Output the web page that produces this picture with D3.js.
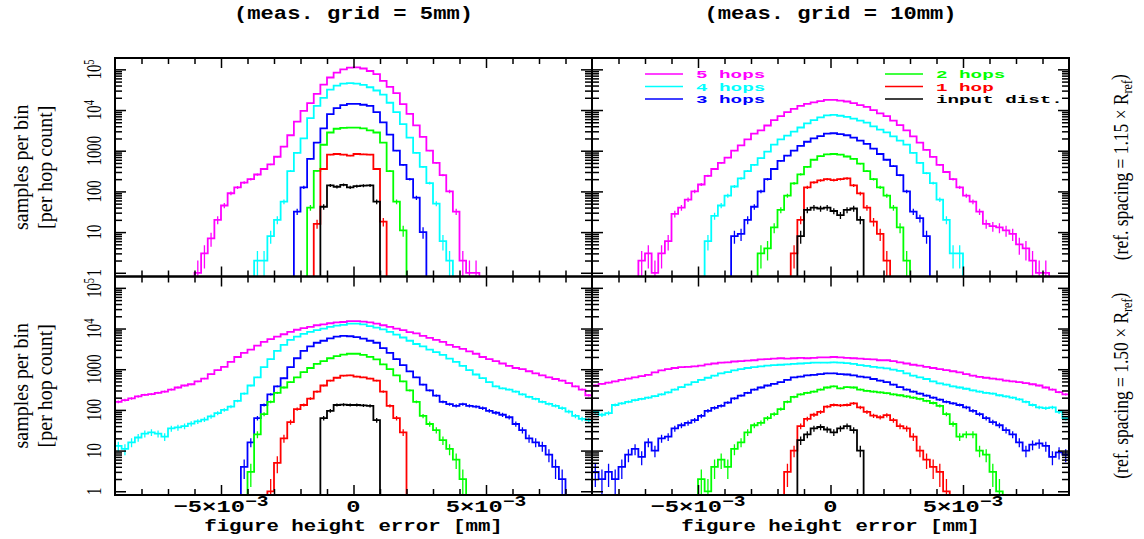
<!DOCTYPE html>
<html>
<head>
<meta charset="utf-8">
<script src="https://cdn.jsdelivr.net/npm/d3@7"></script>
<style>
  body { margin: 0; background: #fff; }
  svg { display: block; }
  .serif { font-family: "Liberation Serif", "Times New Roman", serif; }
  .mono { font-family: "Liberation Mono", "Courier New", monospace; font-weight: bold; }
  .axis path.domain { stroke: none; }
  .axis line { stroke: #000; stroke-width: 1.5; }
</style>
</head>
<body>
<script>
// histogram bin width [mm], every series uses the same binning
var binWidth = 0.25e-3;

var hopNames = ["5 hops", "4 hops", "3 hops", "2 hops", "1 hop", "input dist."];
var gridTitles = ["(meas. grid = 5mm)", "(meas. grid = 10mm)"];
var spacingValues = ["1.15", "1.50"];
var yTickValues = [1, 10, 100, 1000, 1e4, 1e5];
var yTickLabels = [["1", ""], ["10", ""], ["100", ""], ["1000", ""], ["10", "4"], ["10", "5"]];
var xTickValues = [-5e-3, 0, 5e-3];
var xTickLabels = [["\u22125\u00d710", "\u22123"], ["0", ""], ["5\u00d710", "\u22123"]];

// meas. grid 5mm, ref. spacing 1.15 -- lower edge of first bin, then counts per bin
var g5s115Start = [-6.0e-3, -3.75e-3, -2.25e-3, -1.75e-3, -1.5e-3, -1.25e-3];
var g5s115Hop5 = [1, 3, 7, 20, 45, 90, 125, 165, 200, 260, 355, 460, 710, 1260, 2400, 5200, 9500, 14800, 25000, 42000, 63000, 83000, 100000, 110000, 112000, 105000, 91000, 76000, 52000, 37000, 26000, 14000, 8000, 4200, 2200, 1000, 500, 250, 100, 32, 2, 1, 1];
var g5s115Hop4 = [2, 2, 8, 20, 56, 316, 890, 2000, 6300, 12600, 20000, 31600, 40000, 44700, 45700, 44700, 41700, 36300, 30200, 24000, 15100, 8900, 4500, 2100, 890, 400, 160, 50, 6, 2];
var g5s115Hop3 = [32, 126, 630, 1580, 3550, 7900, 11200, 13200, 14100, 14100, 13500, 12600, 8900, 5000, 2500, 1000, 450, 200, 70, 10];
var g5s115Hop2 = [40, 320, 1400, 2800, 3470, 3630, 3700, 3700, 3550, 3160, 2800, 1580, 316, 56, 11];
var g5s115Hop1 = [16, 355, 800, 830, 800, 760, 830, 810, 800, 355, 18];
var g5s115Input = [42, 140, 130, 145, 126, 135, 138, 140, 56];

// meas. grid 10mm, ref. spacing 1.15
var g10s115Start = [-7.25e-3, -4.75e-3, -3.75e-3, -2.75e-3, -1.5e-3, -1.25e-3];
var g10s115Hop5 = [2, 3, 1, 3, 6, 28, 40, 63, 100, 148, 240, 355, 500, 676, 1000, 1350, 1900, 2630, 3160, 4170, 5620, 7080, 8900, 10700, 12600, 14100, 15500, 16600, 17800, 17800, 17000, 16200, 14800, 13200, 12000, 10000, 8300, 7080, 5500, 4270, 3160, 2240, 1580, 1050, 708, 447, 300, 200, 126, 79, 56, 32, 16, 14, 13, 11, 9, 5, 4, 2, 1, 1];
var g10s115Hop4 = [6, 25, 45, 79, 132, 209, 316, 447, 660, 955, 1410, 1900, 2340, 2950, 3720, 4680, 5620, 6600, 7400, 7590, 7240, 6760, 6170, 5500, 4900, 3980, 3310, 2820, 2240, 1780, 1410, 890, 500, 280, 160, 63, 20, 3, 3];
var g10s115Hop3 = [8, 9, 20, 42, 100, 200, 355, 560, 760, 1000, 1320, 1660, 2000, 2290, 2630, 2690, 2570, 2400, 2090, 1780, 1480, 1120, 830, 600, 417, 250, 100, 32, 22, 8];
var g10s115Hop2 = [3, 4, 13, 35, 79, 158, 263, 400, 600, 740, 810, 830, 800, 720, 630, 480, 316, 200, 126, 79, 40, 13, 2];
var g10s115Hop1 = [3, 20, 126, 166, 186, 200, 190, 200, 209, 141, 89, 40, 18, 9, 2];
var g10s115Input = [8, 35, 40, 38, 40, 33, 26, 35, 38, 20];

// meas. grid 5mm, ref. spacing 1.50
var g5s150Start = [-9e-3, -9e-3, -4.25e-3, -4.0e-3, -3.25e-3, -1.25e-3];
var g5s150Hop5 = [158, 174, 191, 214, 234, 245, 263, 282, 316, 355, 398, 427, 501, 589, 759, 955, 1148, 1514, 1995, 2512, 3020, 3802, 4677, 5495, 6310, 7244, 8318, 9333, 10233, 10965, 12023, 12589, 13490, 14125, 14454, 15136, 15136, 14791, 14125, 13183, 12023, 10965, 10000, 9120, 8128, 7586, 6607, 5888, 5248, 4677, 3981, 3548, 3162, 2754, 2399, 1995, 1778, 1585, 1380, 1202, 1072, 1000, 891, 794, 708, 631, 575, 525, 457, 380, 316, 229];
var g5s150Hop4 = [13, 11, 16, 21, 26, 28, 26, 22, 35, 37, 40, 46, 52, 58, 69, 83, 100, 120, 166, 251, 398, 631, 1122, 1778, 2818, 3981, 5248, 6310, 7413, 8318, 9120, 10000, 10965, 11749, 12303, 13183, 13183, 12589, 11482, 10471, 9550, 8318, 7079, 6026, 5012, 4169, 3631, 3020, 2630, 2239, 1820, 1514, 1202, 955, 741, 603, 479, 380, 339, 316, 282, 240, 209, 186, 158, 141, 126, 110, 91, 71, 60, 56];
var g5s150Hop3 = [4, 16, 63, 132, 240, 380, 600, 1120, 1860, 2820, 3630, 4470, 5010, 5750, 6310, 6610, 6460, 6170, 5620, 5010, 4470, 3310, 2510, 1780, 1260, 890, 630, 417, 302, 224, 158, 138, 126, 138, 126, 120, 110, 95, 85, 76, 66, 45, 32, 20, 16, 13, 8, 4, 2];
var g5s150Hop2 = [3, 25, 79, 158, 263, 355, 479, 631, 851, 1070, 1350, 1580, 1860, 2090, 2290, 2400, 2400, 2240, 2000, 1740, 1320, 1000, 708, 500, 302, 158, 71, 45, 32, 18, 11, 6, 2];
var g5s150Hop1 = [1, 5, 20, 50, 105, 132, 190, 282, 398, 525, 617, 692, 708, 661, 631, 589, 525, 282, 126, 63, 28];
var g5s150Input = [63, 95, 132, 135, 132, 132, 129, 126, 56];

// meas. grid 10mm, ref. spacing 1.50
var g10s150Start = [-9e-3, -9e-3, -9e-3, -5.0e-3, -1.75e-3, -1.25e-3];
var g10s150Hop5 = [398, 437, 468, 501, 550, 589, 631, 676, 724, 832, 933, 1000, 1072, 1122, 1148, 1175, 1230, 1318, 1380, 1445, 1479, 1549, 1585, 1622, 1660, 1738, 1778, 1820, 1862, 1820, 1862, 1905, 1862, 1905, 1950, 1950, 1995, 1950, 1905, 1862, 1820, 1778, 1738, 1660, 1660, 1585, 1479, 1380, 1288, 1230, 1148, 1072, 1000, 955, 891, 832, 759, 692, 646, 617, 589, 562, 525, 501, 479, 457, 427, 398, 355, 316, 275, 240];
var g10s150Hop4 = [89, 76, 83, 132, 145, 158, 174, 186, 200, 219, 240, 269, 316, 363, 417, 479, 550, 617, 692, 794, 851, 933, 1000, 1072, 1122, 1175, 1230, 1259, 1288, 1318, 1349, 1380, 1413, 1445, 1445, 1445, 1479, 1445, 1413, 1349, 1259, 1202, 1148, 1096, 1047, 977, 912, 794, 692, 631, 575, 501, 447, 417, 380, 355, 331, 302, 282, 263, 251, 229, 214, 200, 182, 158, 132, 115, 110, 115, 89, 63];
var g10s150Hop3 = [3, 2, 3, 2, 4, 8, 11, 7, 16, 10, 20, 22, 35, 42, 48, 56, 71, 95, 112, 126, 151, 191, 224, 263, 316, 355, 398, 437, 479, 550, 631, 661, 708, 724, 759, 794, 794, 759, 741, 708, 661, 631, 575, 525, 479, 417, 363, 316, 282, 251, 224, 200, 178, 158, 145, 132, 115, 95, 79, 63, 50, 42, 32, 25, 16, 10, 14, 15, 13, 7, 9, 8];
var g10s150Hop2 = [2, 1, 4, 6, 4, 11, 16, 28, 42, 48, 63, 79, 105, 158, 209, 240, 263, 282, 316, 355, 380, 339, 363, 355, 316, 295, 282, 269, 257, 240, 229, 214, 200, 186, 166, 148, 126, 79, 45, 22, 25, 25, 10, 8, 3, 1];
var g10s150Hop1 = [3, 10, 40, 60, 76, 89, 120, 132, 129, 132, 145, 115, 89, 72, 66, 74, 56, 40, 35, 22, 10, 6, 4, 3, 1];
var g10s150Input = [18, 25, 35, 38, 33, 28, 35, 40, 32, 10];

var hopColors = ["#ff00ff", "#00ffff", "#0000ff", "#00ff00", "#ff0000", "#000000"];

var panels = [
  { col: 0, row: 0, start: g5s115Start, series: [g5s115Hop5, g5s115Hop4, g5s115Hop3, g5s115Hop2, g5s115Hop1, g5s115Input] },
  { col: 1, row: 0, start: g10s115Start, series: [g10s115Hop5, g10s115Hop4, g10s115Hop3, g10s115Hop2, g10s115Hop1, g10s115Input] },
  { col: 0, row: 1, start: g5s150Start, series: [g5s150Hop5, g5s150Hop4, g5s150Hop3, g5s150Hop2, g5s150Hop1, g5s150Input] },
  { col: 1, row: 1, start: g10s150Start, series: [g10s150Hop5, g10s150Hop4, g10s150Hop3, g10s150Hop2, g10s150Hop1, g10s150Input] }
];

var colX = [115, 592], rowY = [58, 276.5];
var panelW = 477, panelH = 218.5;

var x = d3.scaleLinear().domain([-9e-3, 9e-3]).range([0, panelW]);
var y = d3.scaleLog().domain([0.81, 1.9e5]).range([panelH, 0]);
var yFloor = y.domain()[0];

var yMinor = [];
yTickValues.forEach(function(d) {
  for (var m = 2; m <= 9; m++) {
    if (d * m < y.domain()[1]) yMinor.push(d * m);
  }
});
var xMinor = d3.range(-8, 9).filter(function(k) { return k % 5 !== 0; })
  .map(function(k) { return k * 1e-3; });

var line = d3.line()
  .x(function(d) { return x(d[0]); })
  .y(function(d) { return y(Math.max(d[1], yFloor)); });

var svg = d3.select("body").append("svg")
  .attr("width", 1144)
  .attr("height", 539);

svg.append("defs").append("clipPath")
  .attr("id", "plotClip")
  .append("rect")
  .attr("width", panelW)
  .attr("height", panelH);

panels.forEach(function(p) {
  var g = svg.append("g")
    .attr("transform", "translate(" + colX[p.col] + "," + rowY[p.row] + ")");

  var plot = g.append("g").attr("clip-path", "url(#plotClip)");

  p.series.forEach(function(counts, si) {
    var s = p.start[si];
    var pts = [[s, yFloor]];
    counts.forEach(function(v, k) {
      pts.push([s + k * binWidth, v], [s + (k + 1) * binWidth, v]);
    });
    pts.push([s + counts.length * binWidth, yFloor]);

    plot.append("path")
      .datum(pts)
      .attr("d", line)
      .attr("fill", "none")
      .attr("stroke", hopColors[si])
      .attr("stroke-width", 1.8);

    // sqrt(N) error bars at bin centres
    plot.append("g").selectAll("line")
      .data(counts)
      .enter().append("line")
      .attr("x1", function(v, k) { return x(s + (k + 0.5) * binWidth); })
      .attr("x2", function(v, k) { return x(s + (k + 0.5) * binWidth); })
      .attr("y1", function(v) { return y(v + Math.sqrt(v)); })
      .attr("y2", function(v) { return y(Math.max(v - Math.sqrt(v), yFloor)); })
      .attr("stroke", hopColors[si])
      .attr("stroke-width", 1.3);
  });

  // inward ticks on all four sides
  function addAxis(gen, tx, ty, values, size) {
    g.append("g")
      .attr("class", "axis")
      .attr("transform", "translate(" + tx + "," + ty + ")")
      .call(gen.tickValues(values).tickSize(size).tickSizeOuter(0).tickFormat(""));
  }
  addAxis(d3.axisLeft(y), 0, 0, yTickValues, -11);
  addAxis(d3.axisLeft(y), 0, 0, yMinor, -7);
  addAxis(d3.axisRight(y), panelW, 0, yTickValues, -11);
  addAxis(d3.axisRight(y), panelW, 0, yMinor, -7);
  addAxis(d3.axisBottom(x), 0, panelH, xTickValues, -10);
  addAxis(d3.axisBottom(x), 0, panelH, xMinor, -6);
  addAxis(d3.axisTop(x), 0, 0, xTickValues, -10);
  addAxis(d3.axisTop(x), 0, 0, xMinor, -6);

  g.append("rect")
    .attr("width", panelW)
    .attr("height", panelH)
    .attr("fill", "none")
    .attr("stroke", "#000")
    .attr("stroke-width", 2);

  if (p.col === 0) {
    yTickValues.forEach(function(v, i) {
      var t = g.append("text")
        .attr("class", "serif")
        .attr("transform", "translate(-14," + y(v) + ") rotate(-90) scale(0.7,1)")
        .attr("text-anchor", "middle")
        .style("font-size", "21px")
        .text(yTickLabels[i][0]);
      if (yTickLabels[i][1]) {
        t.append("tspan").attr("dy", "-0.5em").style("font-size", "15px").text(yTickLabels[i][1]);
      }
    });

    var yt = g.append("g")
      .attr("class", "serif")
      .attr("transform", "translate(0," + panelH / 2 + ")")
      .style("font-size", "20px");
    yt.append("text")
      .attr("transform", "translate(-87,0) rotate(-90) scale(1,1.1)")
      .attr("text-anchor", "middle")
      .text("samples per bin");
    yt.append("text")
      .attr("transform", "translate(-63,0) rotate(-90) scale(1,1.1)")
      .attr("text-anchor", "middle")
      .text("[per hop count]");
  }

  if (p.col === 1) {
    var rl = g.append("text")
      .attr("class", "serif")
      .attr("transform", "translate(536," + panelH / 2 + ") rotate(-90) scale(1,1.15)")
      .attr("text-anchor", "middle")
      .style("font-size", "17.5px")
      .text("(ref. spacing = " + spacingValues[p.row] + " \u00d7 R");
    rl.append("tspan").attr("dy", "0.3em").style("font-size", "12px").text("ref");
    rl.append("tspan").attr("dy", "-0.3em").text(")");
  }

  if (p.row === 0) {
    g.append("text")
      .attr("class", "mono")
      .attr("transform", "translate(" + panelW / 2 + ",-39) scale(1.23,1)")
      .attr("text-anchor", "middle")
      .style("font-size", "18px")
      .text(gridTitles[p.col]);
  }

  if (p.row === 1) {
    xTickValues.forEach(function(v, i) {
      var t = g.append("text")
        .attr("class", "mono")
        .attr("transform", "translate(" + x(v) + "," + (panelH + 17) + ") scale(1.4,1)")
        .attr("text-anchor", "middle")
        .style("font-size", "17px")
        .text(xTickLabels[i][0]);
      if (xTickLabels[i][1]) {
        t.append("tspan").attr("dy", "-0.45em").style("font-size", "14px").text(xTickLabels[i][1]);
      }
    });
    g.append("text")
      .attr("class", "mono")
      .attr("transform", "translate(" + panelW / 2 + "," + (panelH + 36) + ") scale(1.22,1)")
      .attr("text-anchor", "middle")
      .style("font-size", "17px")
      .text("figure height error [mm]");
  }

  // legend inside the upper right panel
  if (p.col === 1 && p.row === 0) {
    hopNames.forEach(function(name, i) {
      var lx = i < 3 ? 53 : 293, ly = 16 + 12.5 * (i % 3);
      g.append("line")
        .attr("x1", lx).attr("x2", lx + 38)
        .attr("y1", ly).attr("y2", ly)
        .attr("stroke", hopColors[i])
        .attr("stroke-width", 1.5);
      g.append("text")
        .attr("class", "mono")
        .attr("transform", "translate(" + (lx + 51) + "," + (ly + 4) + ") scale(1.75,1)")
        .attr("fill", hopColors[i])
        .style("font-size", "11px")
        .text(name);
    });
  }
});
</script>
</body>
</html>
